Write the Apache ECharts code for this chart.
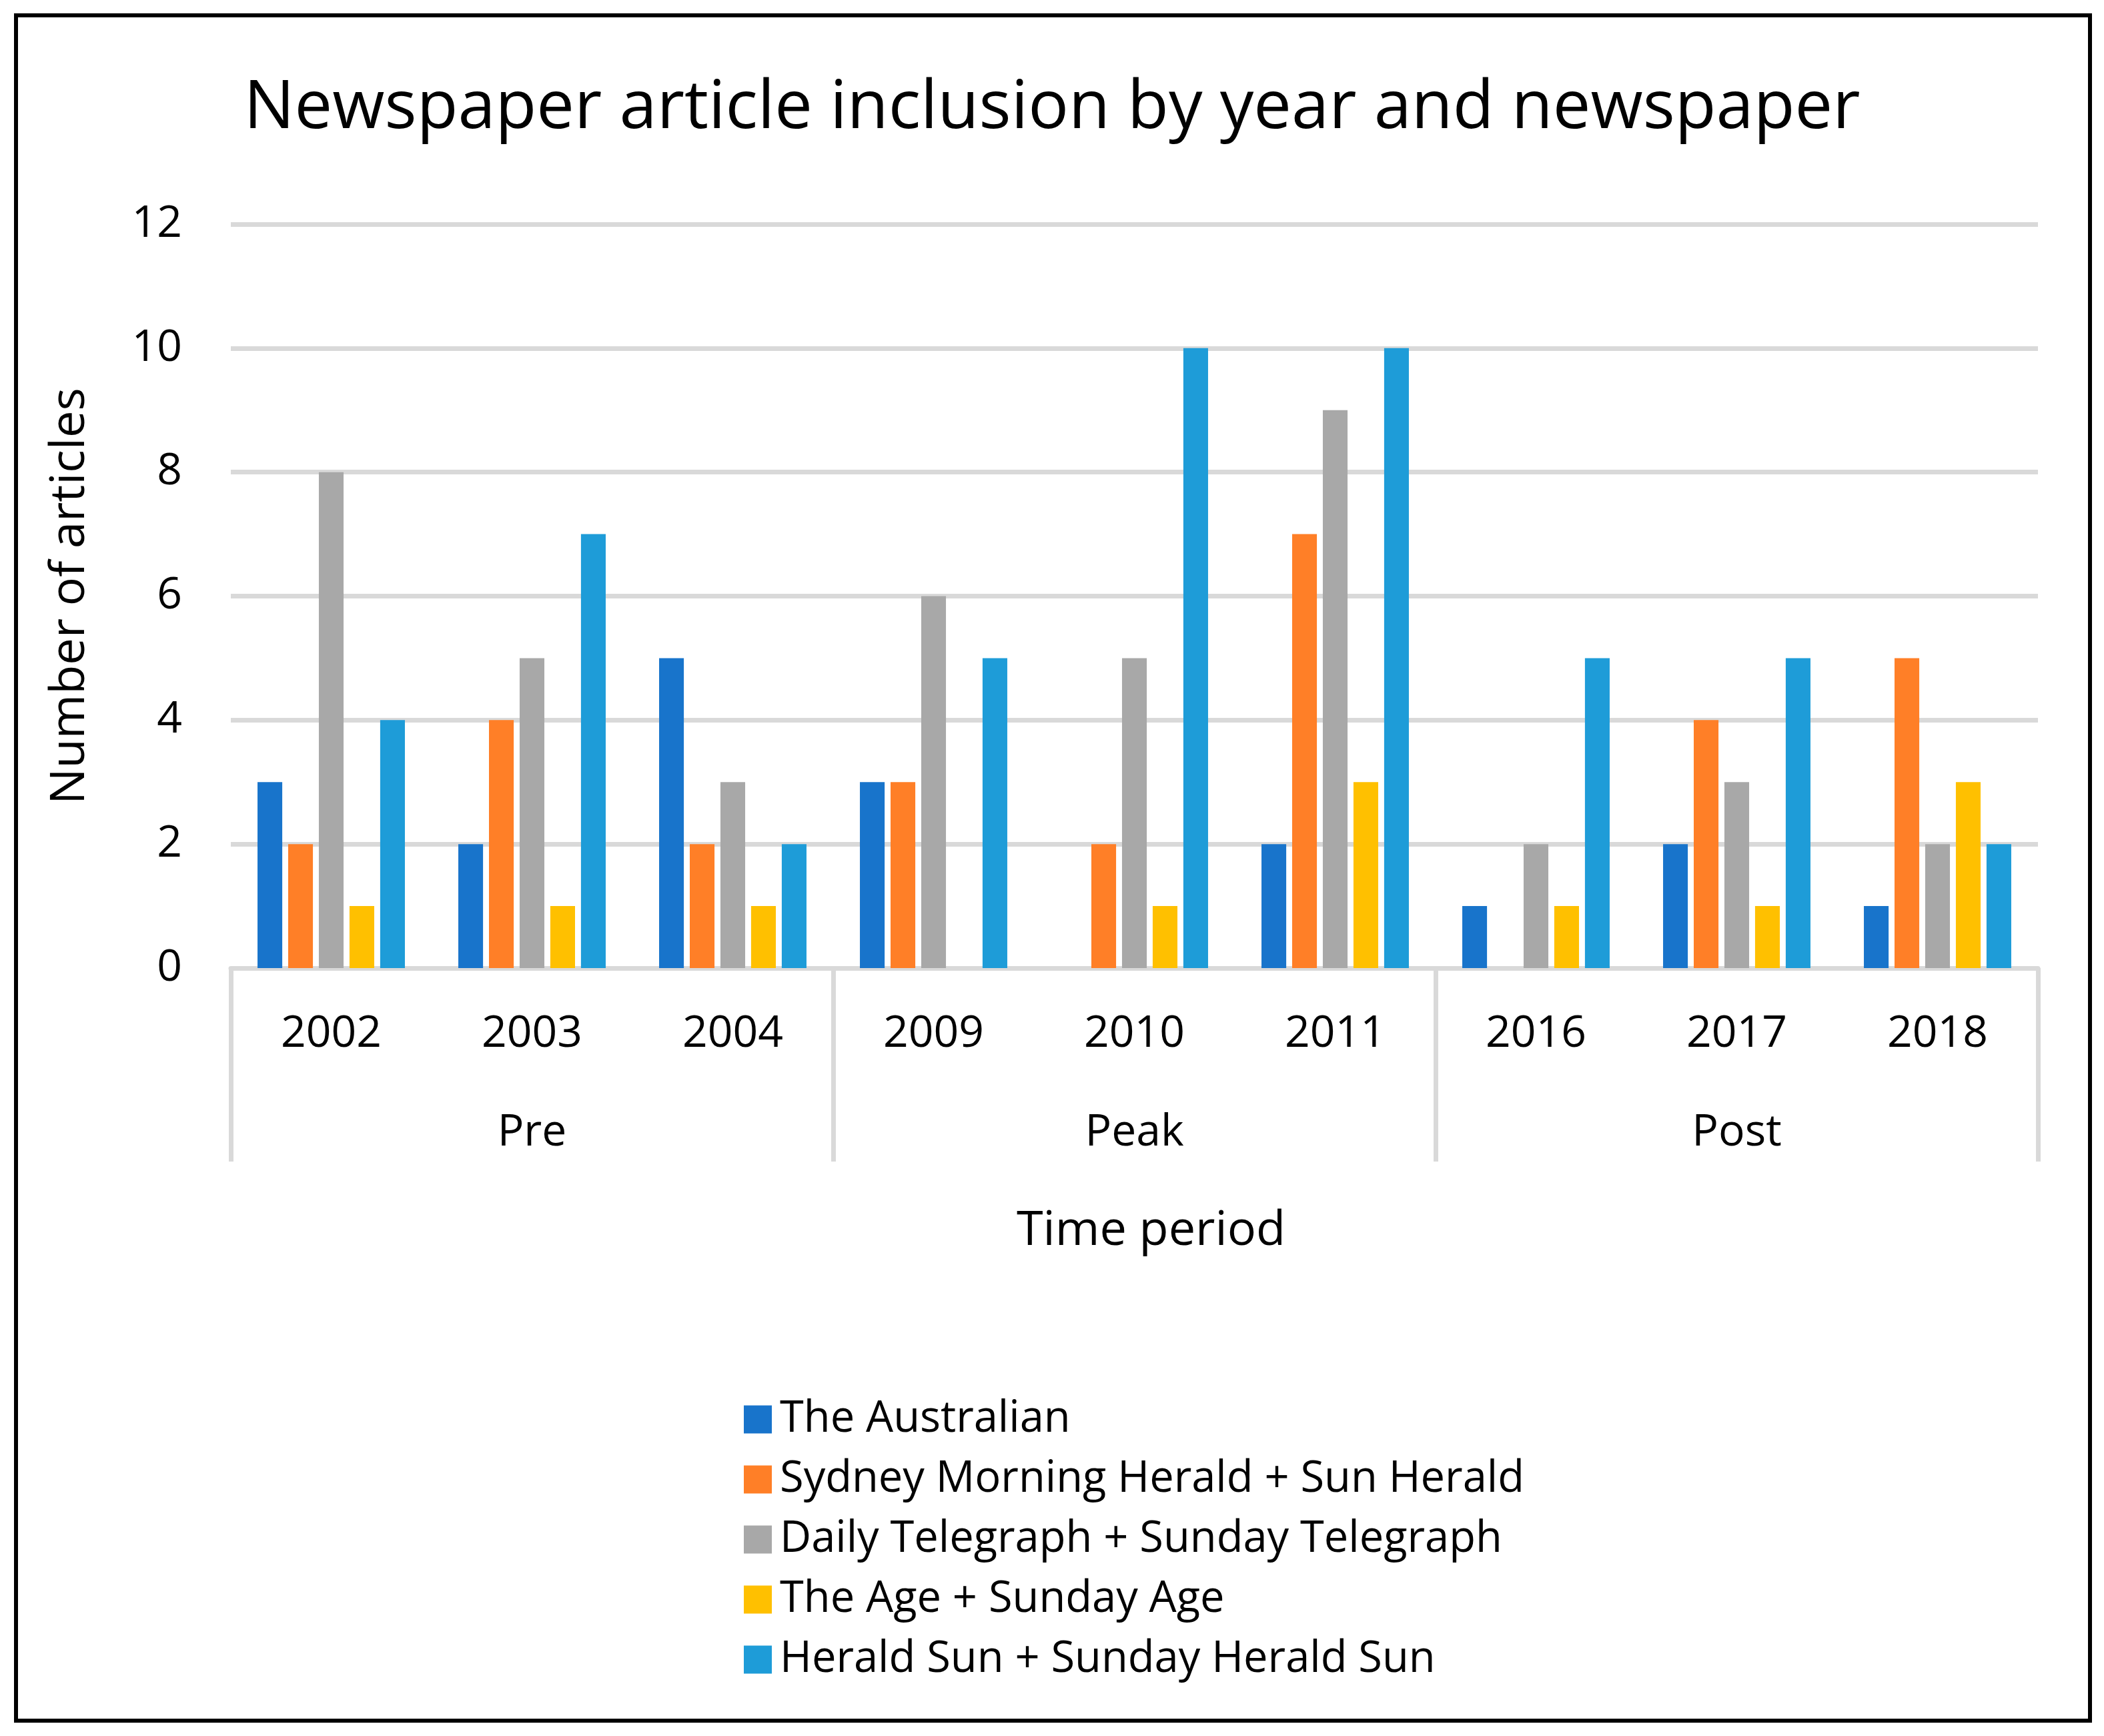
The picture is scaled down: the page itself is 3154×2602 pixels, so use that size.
<!DOCTYPE html>
<html>
<head>
<meta charset="utf-8">
<script src="https://cdn.jsdelivr.net/npm/echarts@6/dist/echarts.min.js"></script>
<style>
html,body{margin:0;padding:0;background:#fff;}
#chart{width:3154px;height:2602px;}
</style>
</head>
<body>
<div id="chart"></div>
<script>
const years = ['2002','2003','2004','2009','2010','2011','2016','2017','2018'];
const periods = ['Pre','Peak','Post'];
const seriesNames = [
  'The Australian',
  'Sydney Morning Herald + Sun Herald',
  'Daily Telegraph + Sunday Telegraph',
  'The Age + Sunday Age',
  'Herald Sun + Sunday Herald Sun'
];
const theAustralian = [3, 2, 5, 3, 0, 2, 1, 2, 1];
const sydneyMorningHerald = [2, 4, 2, 3, 2, 7, 0, 4, 5];
const dailyTelegraph = [8, 5, 3, 6, 5, 9, 2, 3, 2];
const theAge = [1, 1, 1, 0, 1, 3, 1, 1, 3];
const heraldSun = [4, 7, 2, 5, 10, 10, 5, 5, 2];
const yTicks = [0, 2, 4, 6, 8, 10, 12];

const colors = ['#1874CB', '#FF7F27', '#A8A8A8', '#FFC000', '#1E9CD8'];
const seriesData = [theAustralian, sydneyMorningHerald, dailyTelegraph, theAge, heraldSun];
const FONT = 'Open Sans';
const GRID_COLOR = '#D9D9D9';

const chart = echarts.init(document.getElementById('chart'), null, {renderer: 'canvas'});
chart.setOption({
  animation: false,
  backgroundColor: '#ffffff',
  color: colors,
  title: {
    text: 'Newspaper article inclusion by year and newspaper',
    left: 'center',
    top: 108,
    textStyle: {fontFamily: FONT, fontSize: 101, fontWeight: 'normal', color: '#000'}
  },
  graphic: [{
    type: 'rect',
    shape: {x: 24, y: 23, width: 3109, height: 2556},
    style: {fill: 'none', stroke: '#000', lineWidth: 6},
    silent: true
  }],
  legend: {
    orient: 'vertical',
    left: 1110,
    top: 2090,
    icon: 'rect',
    itemWidth: 42,
    itemHeight: 42,
    itemGap: 25,
    data: seriesNames,
    textStyle: {fontFamily: FONT, fontSize: 65, lineHeight: 64, color: '#000', padding: [0, 0, 0, 7]}
  },
  grid: {left: 346, right: 3154 - 3055, top: 336, bottom: 2602 - 1451, containLabel: false},
  xAxis: [{
    type: 'category',
    data: years,
    axisLine: {show: true, lineStyle: {color: GRID_COLOR, width: 7}},
    axisTick: {show: false},
    axisLabel: {fontFamily: FONT, fontSize: 66, color: '#000', margin: 66, interval: 0},
    name: 'Time period',
    nameLocation: 'middle',
    nameGap: 358,
    nameTextStyle: {fontFamily: FONT, fontSize: 72, color: '#000', padding: [0, 0, 0, 50]}
  }, {
    type: 'category',
    data: periods,
    position: 'bottom',
    axisLine: {show: false},
    axisTick: {show: true, length: 290, interval: 0, lineStyle: {color: GRID_COLOR, width: 7}},
    axisLabel: {fontFamily: FONT, fontSize: 66, color: '#000', margin: 214, interval: 0}
  }],
  yAxis: {
    type: 'value',
    min: 0,
    max: 12,
    interval: 2,
    axisLine: {show: false},
    axisTick: {show: false},
    axisLabel: {fontFamily: FONT, fontSize: 66, color: '#000', margin: 73},
    splitLine: {show: true, lineStyle: {color: GRID_COLOR, width: 7}},
    name: 'Number of articles',
    nameLocation: 'middle',
    nameGap: 205,
    nameTextStyle: {fontFamily: FONT, fontSize: 72, color: '#000'}
  },
  series: seriesNames.map((name, i) => ({
    name: name,
    type: 'bar',
    xAxisIndex: 0,
    data: seriesData[i],
    barGap: '24%',
    barCategoryGap: '26.6%',
    itemStyle: {color: colors[i]}
  }))
});
</script>
</body>
</html>
